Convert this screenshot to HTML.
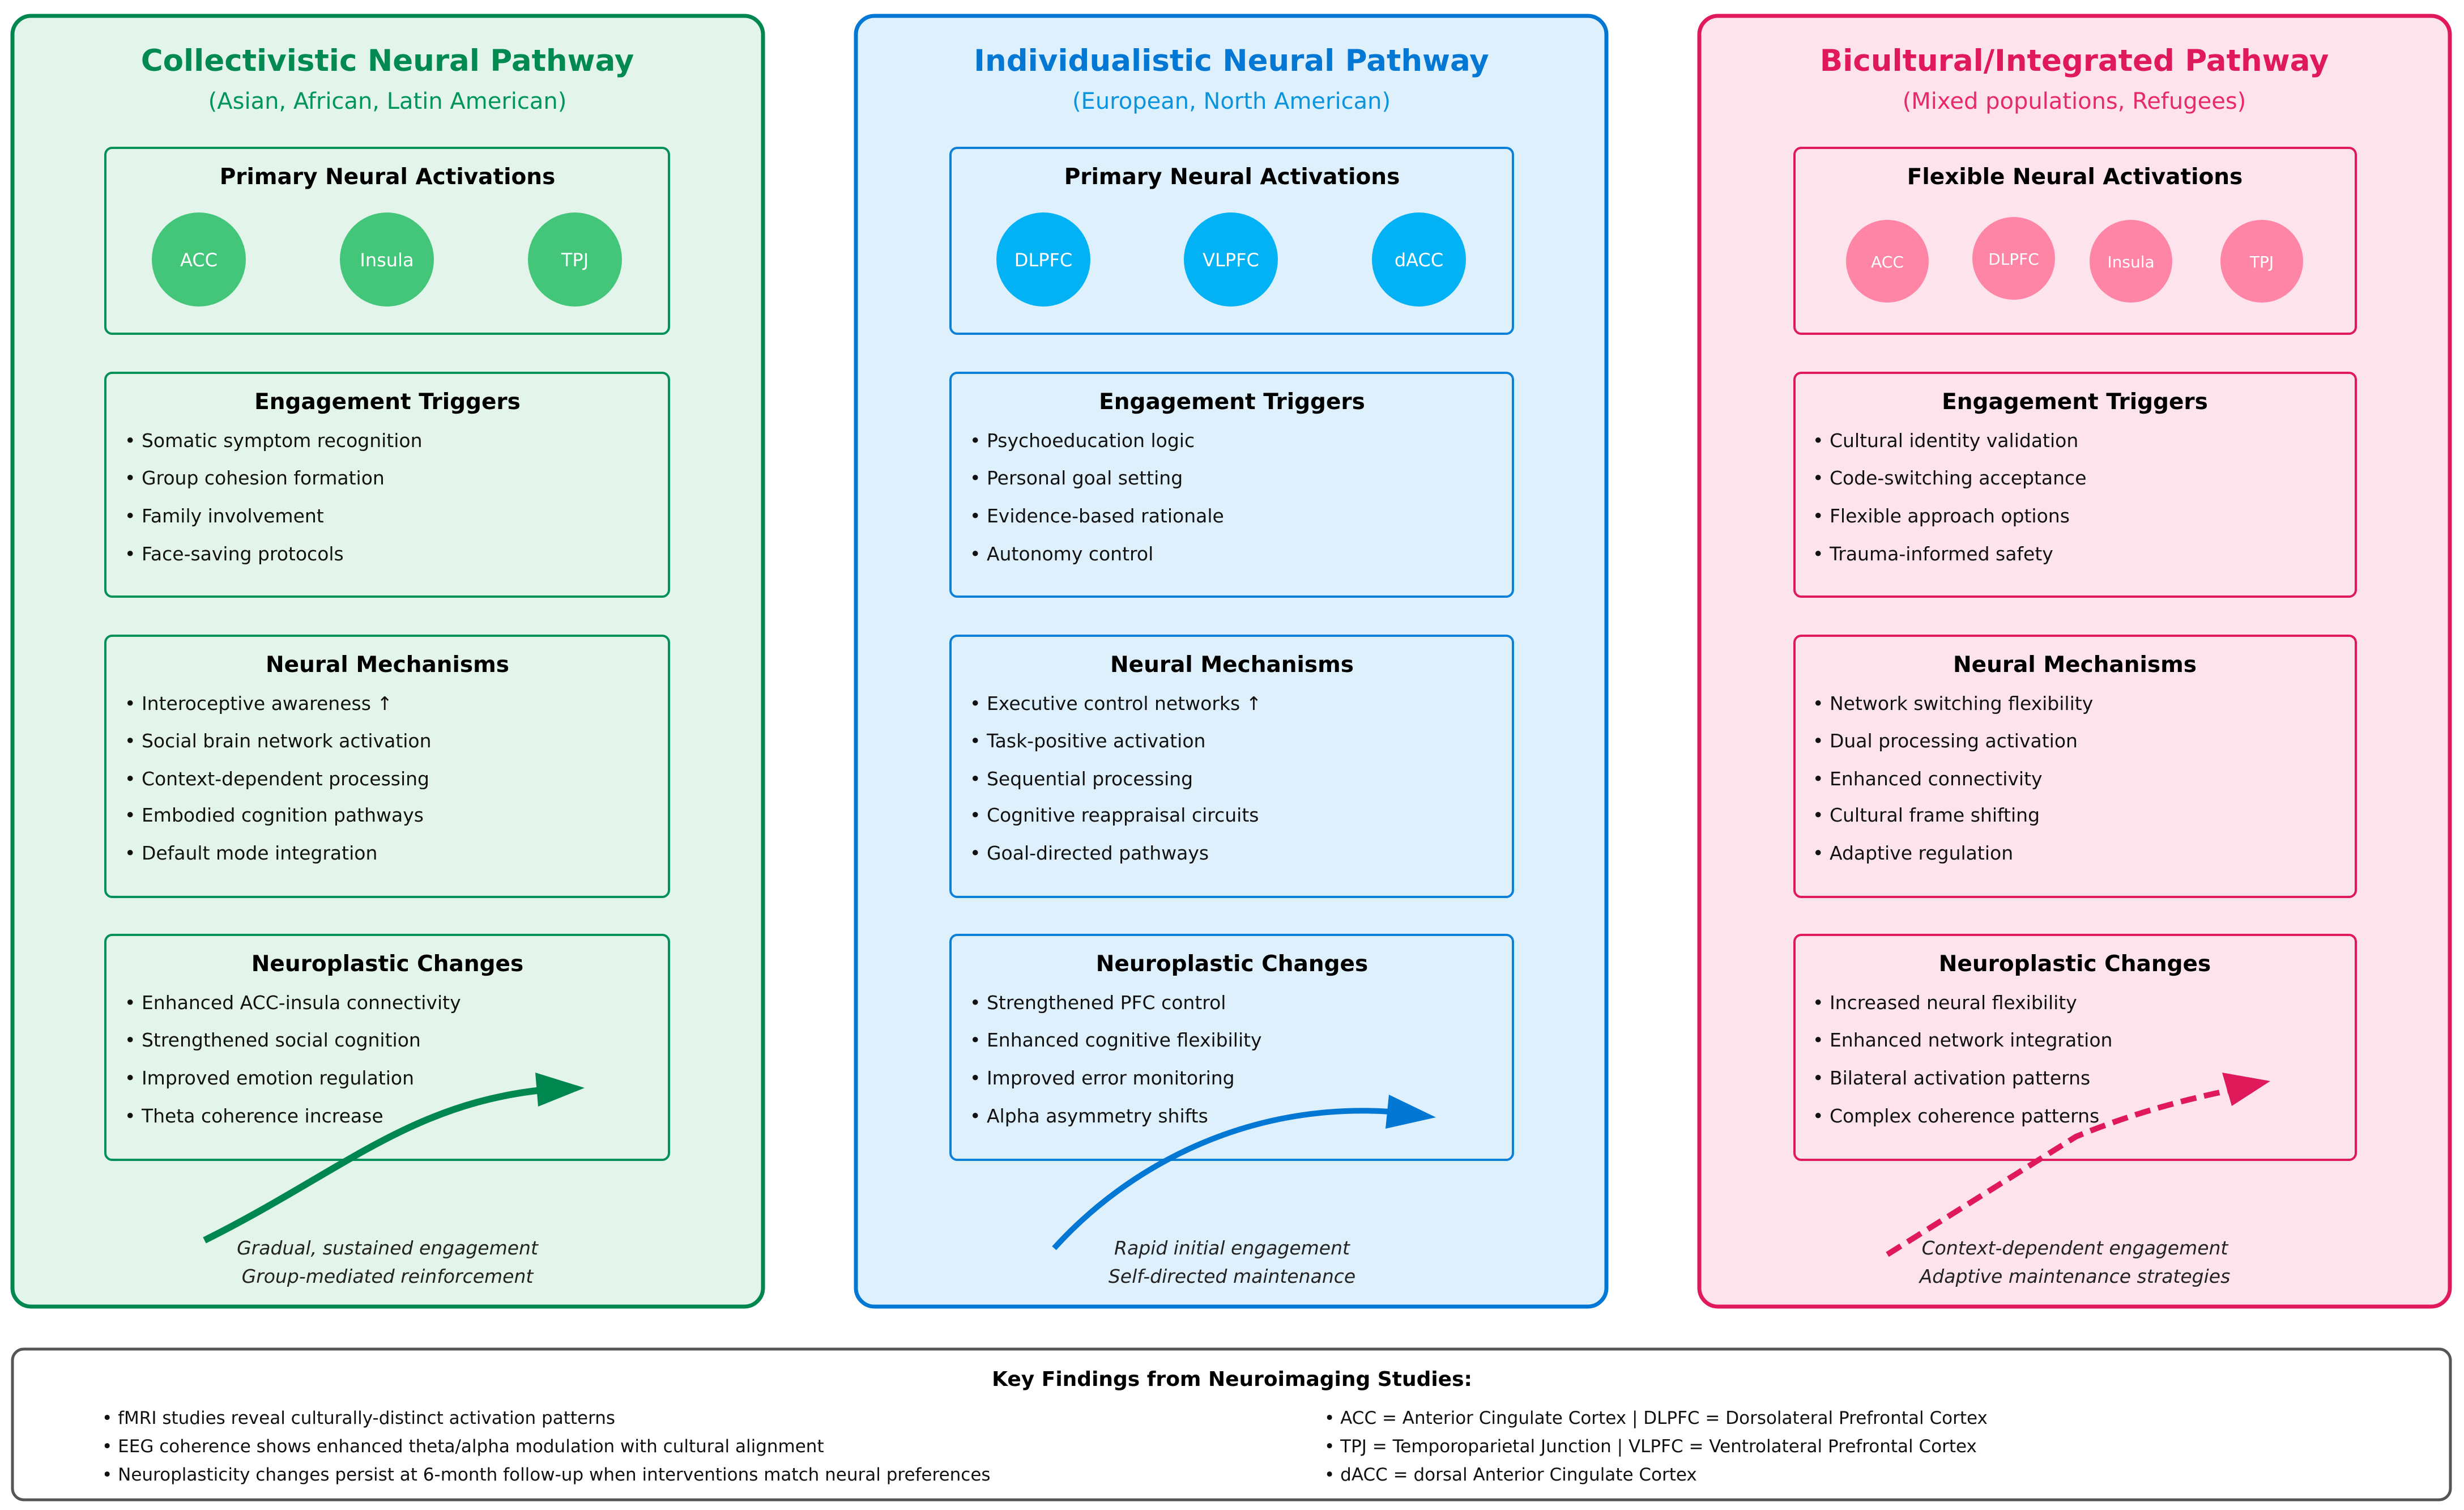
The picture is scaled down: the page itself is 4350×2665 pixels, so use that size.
<!DOCTYPE html>
<html><head><meta charset="utf-8"><style>
html,body{margin:0;padding:0;background:#fff;}
svg{display:block;}
text{font-family:"DejaVu Sans","Liberation Sans",sans-serif;}
.t{font-weight:bold;font-size:39px;fill:#000;text-anchor:middle;}
.i{font-size:33px;fill:#111;}
.c{font-size:32px;fill:#fff;text-anchor:middle;}
.cap{font-size:33px;font-style:italic;fill:#222;text-anchor:middle;}
.b{font-size:31px;fill:#111;}
</style></head><body>
<svg width="4350" height="2665" viewBox="0 0 4350 2665" xmlns="http://www.w3.org/2000/svg">
<rect width="4350" height="2665" fill="#fff"/>

<!-- LEFT PANEL -->
<rect x="22" y="28" width="1325" height="2278" rx="33" fill="#e3f5ea" stroke="#00874f" stroke-width="7"/>
<text x="684" y="125" text-anchor="middle" font-size="53" font-weight="bold" fill="#008a52">Collectivistic Neural Pathway</text>
<text x="684" y="192" text-anchor="middle" font-size="40" fill="#00955a">(Asian, African, Latin American)</text>
<g fill="#e3f5ea" stroke="#009058" stroke-width="4">
<rect x="186" y="261" width="995" height="328" rx="12"/>
<rect x="186" y="658" width="995" height="395" rx="12"/>
<rect x="186" y="1122" width="995" height="461" rx="12"/>
<rect x="186" y="1650" width="995" height="397" rx="12"/>
</g>
<text class="t" x="684" y="325">Primary Neural Activations</text>
<g fill="#43c67a"><circle cx="351" cy="458" r="83"/><circle cx="683" cy="458" r="83"/><circle cx="1015" cy="458" r="83"/></g>
<text class="c" x="351" y="470">ACC</text><text class="c" x="683" y="470">Insula</text><text class="c" x="1015" y="470">TPJ</text>
<text class="t" x="684" y="722">Engagement Triggers</text>
<text class="i" x="220" y="789">• Somatic symptom recognition</text>
<text class="i" x="220" y="855">• Group cohesion formation</text>
<text class="i" x="220" y="922">• Family involvement</text>
<text class="i" x="220" y="989">• Face-saving protocols</text>
<text class="t" x="684" y="1186">Neural Mechanisms</text>
<text class="i" x="220" y="1253">• Interoceptive awareness ↑</text>
<text class="i" x="220" y="1319">• Social brain network activation</text>
<text class="i" x="220" y="1386">• Context-dependent processing</text>
<text class="i" x="220" y="1450">• Embodied cognition pathways</text>
<text class="i" x="220" y="1517">• Default mode integration</text>
<text class="t" x="684" y="1714">Neuroplastic Changes</text>
<text class="i" x="220" y="1781">• Enhanced ACC-insula connectivity</text>
<text class="i" x="220" y="1847">• Strengthened social cognition</text>
<text class="i" x="220" y="1914">• Improved emotion regulation</text>
<text class="i" x="220" y="1981">• Theta coherence increase</text>
<path d="M361 2189 C 600 2070, 720 1950, 955 1924" fill="none" stroke="#00874f" stroke-width="12"/>
<polygon points="1032,1920 945,1893 950,1953" fill="#00874f"/>
<text class="cap" x="684" y="2214">Gradual, sustained engagement</text>
<text class="cap" x="684" y="2264">Group-mediated reinforcement</text>

<!-- MIDDLE PANEL -->
<rect x="1511" y="28" width="1325" height="2278" rx="33" fill="#ddf0fc" stroke="#0277d4" stroke-width="7"/>
<text x="2174" y="125" text-anchor="middle" font-size="53" font-weight="bold" fill="#0277d4">Individualistic Neural Pathway</text>
<text x="2174" y="192" text-anchor="middle" font-size="40" fill="#0a94de">(European, North American)</text>
<g fill="#ddf0fc" stroke="#0a80d8" stroke-width="4">
<rect x="1678" y="261" width="993" height="328" rx="12"/>
<rect x="1678" y="658" width="993" height="395" rx="12"/>
<rect x="1678" y="1122" width="993" height="461" rx="12"/>
<rect x="1678" y="1650" width="993" height="397" rx="12"/>
</g>
<text class="t" x="2175" y="325">Primary Neural Activations</text>
<g fill="#03b1f5"><circle cx="1842" cy="458" r="83"/><circle cx="2173" cy="458" r="83"/><circle cx="2505" cy="458" r="83"/></g>
<text class="c" x="1842" y="470">DLPFC</text><text class="c" x="2173" y="470">VLPFC</text><text class="c" x="2505" y="470">dACC</text>
<text class="t" x="2175" y="722">Engagement Triggers</text>
<text class="i" x="1712" y="789">• Psychoeducation logic</text>
<text class="i" x="1712" y="855">• Personal goal setting</text>
<text class="i" x="1712" y="922">• Evidence-based rationale</text>
<text class="i" x="1712" y="989">• Autonomy control</text>
<text class="t" x="2175" y="1186">Neural Mechanisms</text>
<text class="i" x="1712" y="1253">• Executive control networks ↑</text>
<text class="i" x="1712" y="1319">• Task-positive activation</text>
<text class="i" x="1712" y="1386">• Sequential processing</text>
<text class="i" x="1712" y="1450">• Cognitive reappraisal circuits</text>
<text class="i" x="1712" y="1517">• Goal-directed pathways</text>
<text class="t" x="2175" y="1714">Neuroplastic Changes</text>
<text class="i" x="1712" y="1781">• Strengthened PFC control</text>
<text class="i" x="1712" y="1847">• Enhanced cognitive flexibility</text>
<text class="i" x="1712" y="1914">• Improved error monitoring</text>
<text class="i" x="1712" y="1981">• Alpha asymmetry shifts</text>
<path d="M1861 2203 C 1990 2060, 2200 1945, 2455 1962" fill="none" stroke="#0277d4" stroke-width="10"/>
<polygon points="2535,1972 2452,1932 2446,1992" fill="#0277d4"/>
<text class="cap" x="2175" y="2214">Rapid initial engagement</text>
<text class="cap" x="2175" y="2264">Self-directed maintenance</text>

<!-- RIGHT PANEL -->
<rect x="3000" y="28" width="1325" height="2278" rx="33" fill="#fde4ec" stroke="#e0195a" stroke-width="7"/>
<text x="3662" y="125" text-anchor="middle" font-size="53" font-weight="bold" fill="#e0195a">Bicultural/Integrated Pathway</text>
<text x="3662" y="192" text-anchor="middle" font-size="40" fill="#e8296a">(Mixed populations, Refugees)</text>
<g fill="#fde4ec" stroke="#e0195a" stroke-width="4">
<rect x="3168" y="261" width="991" height="328" rx="12"/>
<rect x="3168" y="658" width="991" height="395" rx="12"/>
<rect x="3168" y="1122" width="991" height="461" rx="12"/>
<rect x="3168" y="1650" width="991" height="397" rx="12"/>
</g>
<text class="t" x="3663" y="325">Flexible Neural Activations</text>
<g fill="#ff85a7"><circle cx="3332" cy="461" r="73"/><circle cx="3555" cy="456" r="73"/><circle cx="3762" cy="461" r="73"/><circle cx="3993" cy="461" r="73"/></g>
<text class="c" x="3332" y="472" style="font-size:28px">ACC</text><text class="c" x="3555" y="467" style="font-size:28px">DLPFC</text><text class="c" x="3762" y="472" style="font-size:28px">Insula</text><text class="c" x="3993" y="472" style="font-size:28px">TPJ</text>
<text class="t" x="3663" y="722">Engagement Triggers</text>
<text class="i" x="3200" y="789">• Cultural identity validation</text>
<text class="i" x="3200" y="855">• Code-switching acceptance</text>
<text class="i" x="3200" y="922">• Flexible approach options</text>
<text class="i" x="3200" y="989">• Trauma-informed safety</text>
<text class="t" x="3663" y="1186">Neural Mechanisms</text>
<text class="i" x="3200" y="1253">• Network switching flexibility</text>
<text class="i" x="3200" y="1319">• Dual processing activation</text>
<text class="i" x="3200" y="1386">• Enhanced connectivity</text>
<text class="i" x="3200" y="1450">• Cultural frame shifting</text>
<text class="i" x="3200" y="1517">• Adaptive regulation</text>
<text class="t" x="3663" y="1714">Neuroplastic Changes</text>
<text class="i" x="3200" y="1781">• Increased neural flexibility</text>
<text class="i" x="3200" y="1847">• Enhanced network integration</text>
<text class="i" x="3200" y="1914">• Bilateral activation patterns</text>
<text class="i" x="3200" y="1981">• Complex coherence patterns</text>
<path d="M3332 2214 L3665 2006 Q 3788 1955, 3933 1925" fill="none" stroke="#e0195a" stroke-width="10" stroke-dasharray="28 14"/>
<polygon points="4008,1908 3923,1893 3940,1952" fill="#e0195a"/>
<text class="cap" x="3663" y="2214">Context-dependent engagement</text>
<text class="cap" x="3663" y="2264">Adaptive maintenance strategies</text>

<!-- BOTTOM -->
<rect x="22" y="2381" width="4304" height="266" rx="20" fill="#fff" stroke="#555" stroke-width="5"/>
<text x="2175" y="2446" text-anchor="middle" font-size="36" font-weight="bold" fill="#000">Key Findings from Neuroimaging Studies:</text>
<text class="b" x="180" y="2513">• fMRI studies reveal culturally-distinct activation patterns</text>
<text class="b" x="180" y="2563">• EEG coherence shows enhanced theta/alpha modulation with cultural alignment</text>
<text class="b" x="180" y="2613">• Neuroplasticity changes persist at 6-month follow-up when interventions match neural preferences</text>
<text class="b" x="2338" y="2513">• ACC = Anterior Cingulate Cortex | DLPFC = Dorsolateral Prefrontal Cortex</text>
<text class="b" x="2338" y="2563">• TPJ = Temporoparietal Junction | VLPFC = Ventrolateral Prefrontal Cortex</text>
<text class="b" x="2338" y="2613">• dACC = dorsal Anterior Cingulate Cortex</text>
</svg>
</body></html>
